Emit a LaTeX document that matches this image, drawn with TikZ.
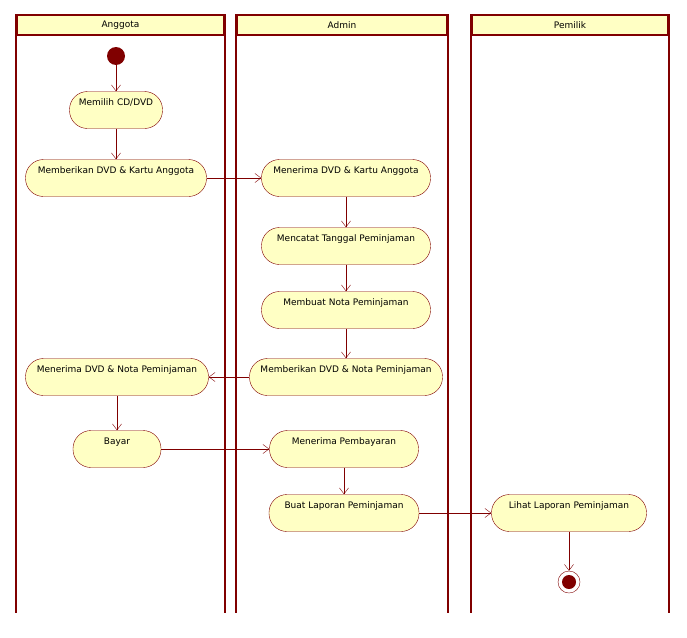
\documentclass[tikz,border=0pt]{standalone}
\usepackage{fontspec}
\setmainfont{DejaVu Sans}
\usepackage{tikz}
\usetikzlibrary{arrows.meta, positioning}
\definecolor{umlred}{HTML}{800000}
\definecolor{umlfill}{HTML}{FFFFC4}

\tikzset{
  act/.style={draw=umlred, fill=umlfill, rounded corners=18pt, minimum height=37pt,
    inner sep=0pt, text height=7pt, text depth=16pt, font=\fontsize{9}{10}\selectfont},
  lanehead/.style={draw=umlred, fill=umlfill, line width=1.6pt, minimum height=20pt,
    inner sep=0pt, font=\fontsize{9}{10}\selectfont},
  laneline/.style={draw=umlred, line width=1.6pt},
  flow/.style={-{Straight Barb[length=6pt,width=9pt]}, draw=umlred}
}

\begin{document}
\begin{tikzpicture}[x=1pt, y=-1pt]
	\useasboundingbox (0,0) rectangle (687,637);
	% swimlanes
	\node at (120.5,25) (hAnggota) [lanehead, minimum width=207pt] {Anggota};
	\node at (342,25) (hAdmin) [lanehead, minimum width=210pt] {Admin};
	\node at (570,25) (hPemilik) [lanehead, minimum width=196pt] {Pemilik};
	\foreach \h in {hAnggota, hAdmin, hPemilik} {
		\draw[laneline] (\h.north west) -- (\h.north west |- 0,613);
		\draw[laneline] (\h.north east) -- (\h.north east |- 0,613);
	}
	% start / end
	\node at (116,56) (start) [circle, fill=umlred, minimum size=18pt, inner sep=0pt] {};
	\node at (569,582) (stop) [circle, draw=umlred, fill=white, minimum size=22pt, inner sep=0pt] {};
	\fill[umlred] (stop) circle (7pt);
	% activities
	\node at (116,110) (memilih) [act, minimum width=93pt] {Memilih CD/DVD};
	\node at (116,178) (beriKartu) [act, minimum width=181pt] {Memberikan DVD \& Kartu Anggota};
	\node at (346,178) (terimaKartu) [act, minimum width=169pt] {Menerima DVD \& Kartu Anggota};
	\node at (346,246) (catat) [act, minimum width=169pt] {Mencatat Tanggal Peminjaman};
	\node at (346,310) (nota) [act, minimum width=169pt] {Membuat Nota Peminjaman};
	\node at (346,377) (beriNota) [act, minimum width=193pt] {Memberikan DVD \& Nota Peminjaman};
	\node at (117,377) (terimaNota) [act, minimum width=183pt] {Menerima DVD \& Nota Peminjaman};
	\node at (117,449) (bayar) [act, minimum width=88pt] {Bayar};
	\node at (344,449) (terimaBayar) [act, minimum width=149pt] {Menerima Pembayaran};
	\node at (344,513) (laporan) [act, minimum width=150pt] {Buat Laporan Peminjaman};
	\node at (569,513) (lihat) [act, minimum width=155pt] {Lihat Laporan Peminjaman};
	% flows
	\draw[flow] (start) -- (memilih);
	\draw[flow] (memilih) -- (beriKartu);
	\draw[flow] (beriKartu) -- (terimaKartu);
	\draw[flow] (terimaKartu) -- (catat);
	\draw[flow] (catat) -- (nota);
	\draw[flow] (nota) -- (beriNota);
	\draw[flow] (beriNota) -- (terimaNota);
	\draw[flow] (terimaNota) -- (bayar);
	\draw[flow] (bayar) -- (terimaBayar);
	\draw[flow] (terimaBayar) -- (laporan);
	\draw[flow] (laporan) -- (lihat);
	\draw[flow] (lihat) -- (stop);
\end{tikzpicture}
\end{document}
